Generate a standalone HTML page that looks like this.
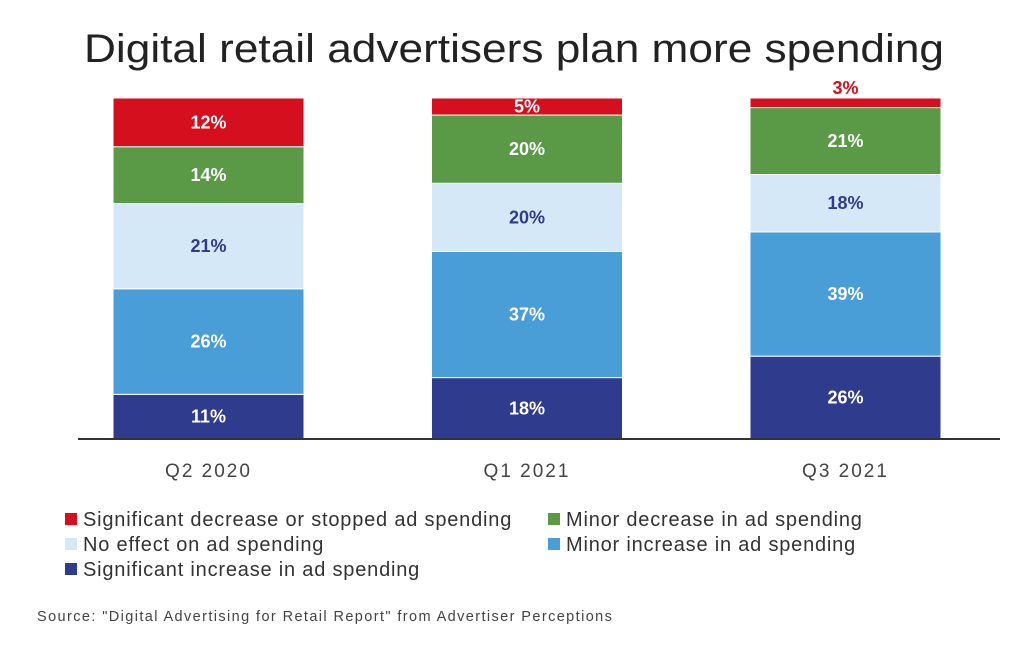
<!DOCTYPE html>
<html><head><meta charset="utf-8">
<style>
body{margin:0;background:#fff;width:1030px;height:646px;overflow:hidden;font-family:"Liberation Sans",sans-serif;}
svg text{font-family:"Liberation Sans",sans-serif;}
</style></head>
<body>
<svg id="chart" width="1030" height="646">
<text x="84" y="62" font-size="40" textLength="860" lengthAdjust="spacingAndGlyphs" fill="#222">Digital retail advertisers plan more spending</text>
<g id="bars"></g>
<line x1="78" y1="439" x2="1000" y2="439" stroke="#333" stroke-width="2"/>
<g id="xlabels"></g>
<g id="legend"></g>
<text x="37" y="621" font-size="14.5" letter-spacing="1.4" fill="#444">Source: "Digital Advertising for Retail Report" from Advertiser Perceptions</text>
</svg>
<script>
const categories = ["Q2 2020","Q1 2021","Q3 2021"];
const seriesNames = ["Significant increase in ad spending","Minor increase in ad spending","No effect on ad spending","Minor decrease in ad spending","Significant decrease or stopped ad spending"];
const sigIncrease = [11,18,26];
const minorIncrease = [26,37,39];
const noEffect = [21,20,18];
const minorDecrease = [14,20,21];
const sigDecrease = [12,5,3];

const series=[sigIncrease,minorIncrease,noEffect,minorDecrease,sigDecrease];
const colors=["#2f3b8c","#4a9ed8","#d5e8f8","#5a9a47","#d50f1d"];
const textColors=["#fff","#fff","#2f3b8c","#fff","#fff"];
const NS="http://www.w3.org/2000/svg";
const baseY=439, barTop=98, barW=191;
const x0=113, step=318.5;
function xPos(i){return x0+i*step;}
const bars=document.getElementById('bars');
categories.forEach((c,i)=>{
  const total=series.reduce((s,a)=>s+a[i],0);
  const scale=(baseY-barTop)/total;
  let y=baseY;
  series.forEach((a,k)=>{
    const h=a[i]*scale;
    const r=document.createElementNS(NS,'rect');
    r.setAttribute('x',xPos(i));r.setAttribute('y',y-h);
    r.setAttribute('width',barW);r.setAttribute('height',h);
    r.setAttribute('fill',colors[k]);
    r.setAttribute('stroke','#fff');r.setAttribute('stroke-width','1');
    
    
    bars.appendChild(r);
    const t=document.createElementNS(NS,'text');
    t.setAttribute('x',xPos(i)+barW/2);
    let ty=y-h/2+6;
    let fill=textColors[k];
    if(h<14){ty=y-h-4;fill=colors[k];}
    t.setAttribute('y',ty);
    t.setAttribute('text-anchor','middle');
    t.setAttribute('font-size','18');t.setAttribute('font-weight','bold');
    t.setAttribute('fill',fill);
    t.textContent=a[i]+'%';
    
    
    bars.appendChild(t);
    y-=h;
  });
  const l=document.createElementNS(NS,'text');
  l.setAttribute('x',xPos(i)+barW/2);l.setAttribute('y',477);
  l.setAttribute('text-anchor','middle');l.setAttribute('font-size','19');l.setAttribute('letter-spacing','2');l.setAttribute('fill','#444');
  l.textContent=c;
  
  
  document.getElementById('xlabels').appendChild(l);
});
const legendOrder=[[4,65,526],[3,548,526],[2,65,551],[1,548,551],[0,65,576]];
const lg=document.getElementById('legend');
legendOrder.forEach(([k,x,y])=>{
  const g=document.createElementNS(NS,'g');
  
  
  const r=document.createElementNS(NS,'rect');
  r.setAttribute('x',x);r.setAttribute('y',y-13);r.setAttribute('width',12);r.setAttribute('height',12);
  r.setAttribute('fill',colors[k]);
  
  
  const t=document.createElementNS(NS,'text');
  t.setAttribute('x',x+18);t.setAttribute('y',y);
  t.setAttribute('font-size','20');t.setAttribute('letter-spacing','0.8');t.setAttribute('fill','#333');
  t.textContent=seriesNames[k];
  
  
  g.appendChild(r);g.appendChild(t);lg.appendChild(g);
});
</script>
</body></html>
